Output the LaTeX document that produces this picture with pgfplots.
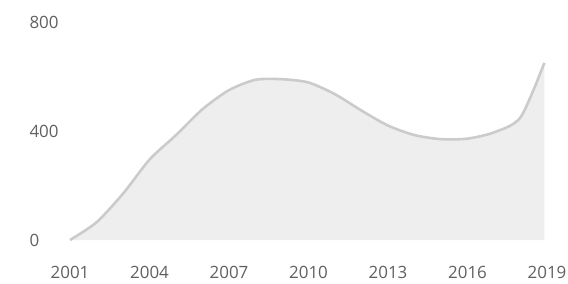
\documentclass[border=0pt]{standalone}
\usepackage{fontspec}
\setmainfont{Open Sans}
\usepackage{pgfplots}
\pgfplotsset{compat=1.18}
\definecolor{txt}{HTML}{606060}
\definecolor{areafill}{HTML}{EEEEEE}
\definecolor{linec}{HTML}{CBCBCB}
\begin{document}
\begin{tikzpicture}
\path[use as bounding box] (-70bp,-44bp) rectangle (498bp,240bp);
\begin{axis}[at={(0,0)}, anchor=south west, scale only axis,
  width=477bp, height=218bp,
  xmin=2001, xmax=2019, ymin=0, ymax=800,
  axis line style={draw=none}, major tick length=0pt,
  xtick={2001,2004,2007,2010,2013,2016,2019},
  xticklabels={2001,2004,2007,2010,2013,2016,2019},
  ytick={0,400,800}, yticklabels={0,400,800},
  ticklabel style={font=\fontsize{17}{17}\selectfont, text=txt},
  xticklabel style={anchor=north, yshift=-23bp},
  yticklabel style={anchor=west, xshift=-44bp},
  clip=false]
\addplot[draw=none, fill=areafill, smooth, tension=0.45] coordinates {
(2001,0) (2002,65) (2003,170) (2004,295) (2005,385) (2006,480) (2007,550)
(2008,588) (2009,590) (2010,578) (2011,535) (2012,475) (2013,420) (2014,385)
(2015,370) (2016,372) (2017,395) (2018,450) (2018.9,650)
} -- (axis cs:2018.9,0) -- cycle;
\addplot[linec, line width=2.6bp, smooth, tension=0.45] coordinates {
(2001,0) (2002,65) (2003,170) (2004,295) (2005,385) (2006,480) (2007,550)
(2008,588) (2009,590) (2010,578) (2011,535) (2012,475) (2013,420) (2014,385)
(2015,370) (2016,372) (2017,395) (2018,450) (2018.9,650)
};
\end{axis}
\end{tikzpicture}
\end{document}
